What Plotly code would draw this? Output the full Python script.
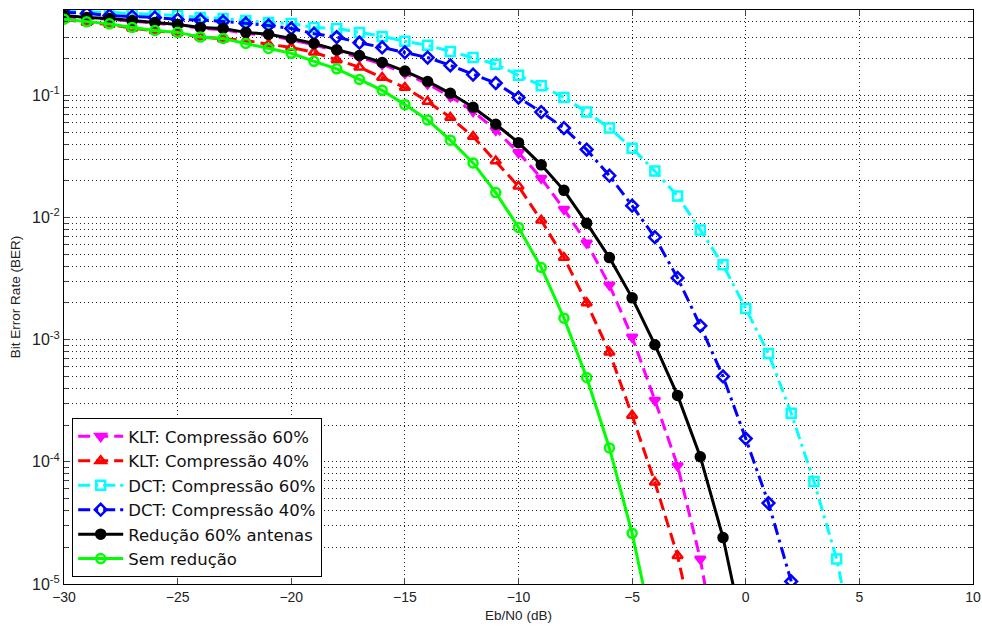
import plotly.graph_objects as go

ebn0 = list(range(-30, 6))

ber_klt60 = [0.44, 0.43, 0.42, 0.405, 0.39, 0.375, 0.355, 0.345, 0.322, 0.31, 0.285, 0.26,
             0.23, 0.205, 0.18, 0.152, 0.124, 0.098, 0.074, 0.052, 0.034, 0.021, 0.0117,
             0.0062, 0.0028, 0.00105, 3.2e-4, 9.3e-5, 1.6e-5, 1.5e-6]
ber_klt40 = [0.42, 0.395, 0.38, 0.355, 0.338, 0.325, 0.30, 0.29, 0.282, 0.262, 0.247, 0.225,
             0.195, 0.17, 0.14, 0.116, 0.089, 0.066, 0.046, 0.029, 0.018, 0.0095, 0.0047,
             0.0020, 7.9e-4, 2.4e-4, 6.8e-5, 1.7e-5, 2.5e-6]
ber_dct60 = [0.49, 0.486, 0.478, 0.469, 0.46, 0.451, 0.434, 0.426, 0.41, 0.395, 0.388, 0.36,
             0.353, 0.327, 0.304, 0.277, 0.257, 0.229, 0.204, 0.18, 0.146, 0.12, 0.096,
             0.073, 0.054, 0.037, 0.024, 0.015, 0.0079, 0.0041, 0.0018, 7.7e-4, 2.5e-4,
             6.9e-5, 1.6e-5, 2.0e-6]
ber_dct40 = [0.48, 0.469, 0.451, 0.443, 0.434, 0.418, 0.415, 0.403, 0.388, 0.374, 0.353, 0.32,
             0.30, 0.27, 0.247, 0.225, 0.204, 0.176, 0.148, 0.126, 0.096, 0.073, 0.054,
             0.036, 0.022, 0.0125, 0.0069, 0.0032, 0.0013, 5.0e-4, 1.55e-4, 4.6e-5, 1.05e-5]
ber_red60 = [0.45, 0.434, 0.426, 0.41, 0.395, 0.381, 0.36, 0.353, 0.328, 0.316, 0.292, 0.266,
             0.236, 0.212, 0.186, 0.158, 0.13, 0.104, 0.08, 0.058, 0.041, 0.027, 0.0167,
             0.009, 0.0047, 0.0022, 9.1e-4, 3.5e-4, 1.1e-4, 2.4e-5, 3.2e-6]
ber_sem = [0.42, 0.40, 0.385, 0.36, 0.34, 0.328, 0.30, 0.292, 0.266, 0.242, 0.221, 0.19,
           0.165, 0.135, 0.11, 0.084, 0.063, 0.043, 0.028, 0.016, 0.0083, 0.0039, 0.0015,
           4.9e-4, 1.3e-4, 2.6e-5, 3.5e-6]

x_ticks = [-30, -25, -20, -15, -10, -5, 0, 5, 10]
y_ticks = [1e-5, 1e-4, 1e-3, 1e-2, 1e-1]
y_ticktext = ["10<sup>-5</sup>", "10<sup>-4</sup>", "10<sup>-3</sup>", "10<sup>-2</sup>", "10<sup>-1</sup>"]
y_minor = [m * 10.0 ** e for e in range(-5, 0) for m in range(2, 10)]

series = [
    ("KLT: Compressão 60%", ber_klt60, "#ff00ff", "12px,6px", "triangle-down", "#ff00ff"),
    ("KLT: Compressão 40%", ber_klt40, "#ff0000", "12px,6px", "triangle-up-open", "#ff0000"),
    ("DCT: Compressão 60%", ber_dct60, "#00ffff", "12px,5px,3px,5px", "square-open", "#00ffff"),
    ("DCT: Compressão 40%", ber_dct40, "#0000ff", "12px,5px,3px,5px", "diamond-open", "#0000ff"),
    ("Redução 60% antenas", ber_red60, "#000000", "solid", "circle", "#000000"),
    ("Sem redução", ber_sem, "#00ff00", "solid", "circle-open", "#00ff00"),
]

fig = go.Figure()
for name, vals, color, dash, sym, mcol in series:
    fig.add_trace(go.Scatter(
        x=ebn0[:len(vals)], y=vals, name=name, mode="lines+markers",
        line=dict(color=color, width=3, dash=dash),
        marker=dict(symbol=sym, size=9, color=mcol, line=dict(color=color, width=2.5)),
        cliponaxis=True,
    ))

font_family = "Liberation Sans, Arial, sans-serif"
grid_dash = "1px,3px"
fig.update_layout(
    width=982, height=628,
    paper_bgcolor="white", plot_bgcolor="white",
    margin=dict(l=64, r=9, t=10, b=44),
    font=dict(family=font_family, size=14, color="#222"),
    showlegend=True,
    legend=dict(
        x=0.009, y=0.012, xanchor="left", yanchor="bottom",
        bgcolor="white", bordercolor="black", borderwidth=1,
        font=dict(family="DejaVu Sans, Liberation Sans, sans-serif", size=16.5, color="#111"),
        itemwidth=45, tracegroupgap=0,
    ),
    xaxis=dict(
        range=[-30, 10], tickvals=x_ticks, ticks="inside", ticklen=6,
        showline=True, linecolor="black", linewidth=1, mirror="ticks",
        showgrid=True, gridcolor="#222", griddash=grid_dash, gridwidth=1,
        zeroline=False, automargin=False,
        title=dict(text="Eb/N0 (dB)", standoff=6, font=dict(size=13.5)),
        tickfont=dict(size=14),
    ),
    yaxis=dict(
        type="log", range=[-5, -0.301], tickvals=y_ticks, ticktext=y_ticktext,
        ticks="inside", ticklen=6,
        showline=True, linecolor="black", linewidth=1, mirror="ticks",
        showgrid=True, gridcolor="#222", griddash=grid_dash, gridwidth=1,
        zeroline=False, automargin=False,
        minor=dict(tickvals=y_minor, ticks="inside", ticklen=4, showgrid=True,
                   gridcolor="#222", griddash=grid_dash, gridwidth=1),
        title=dict(text="Bit Error Rate (BER)", standoff=8, font=dict(size=13.5)),
        tickfont=dict(size=16),
    ),
)

fig.write_html("out.html")
